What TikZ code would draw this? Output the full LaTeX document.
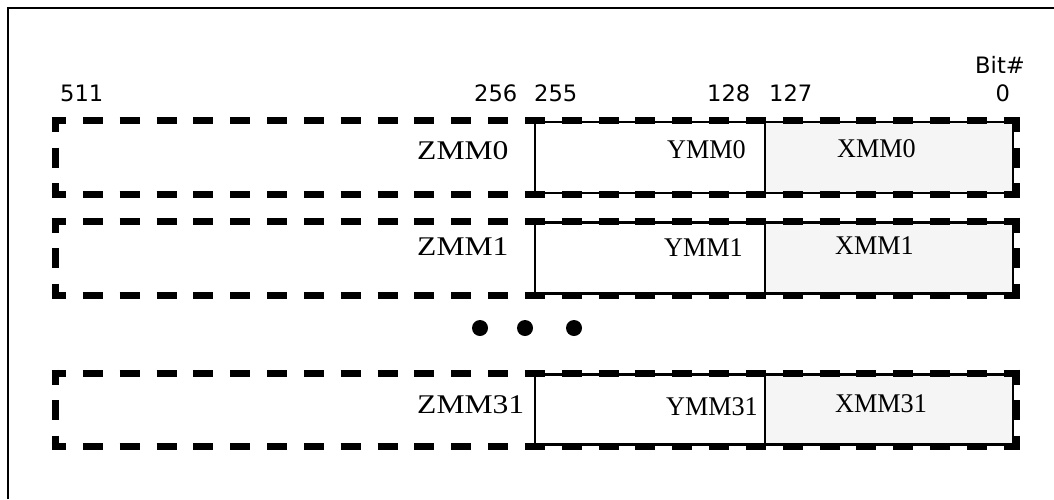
\documentclass[tikz,border=0pt]{standalone}
\usepackage{fontspec}
\setmainfont{Liberation Serif}
\newfontfamily\zfont[FakeStretch=1.17]{Liberation Serif}
\newfontfamily\yfont[FakeStretch=0.97]{Liberation Serif}
\newfontfamily\nfont{DejaVu Sans}
\definecolor{xfill}{RGB}{245,245,245}
\tikzset{
  frame/.style={line width=2.5pt},
  hdash/.style={line width=7pt, dash pattern=on 20pt off 16.84pt, dash phase=5.5pt},
  vdash/.style={line width=7pt, dash pattern=on 20pt off 15.5pt, dash phase=5pt},
  ybox/.style={draw, line width=2.5pt, fill=white, inner sep=0pt, outer sep=0pt},
  xbox/.style={draw, line width=2.5pt, fill=xfill, inner sep=0pt, outer sep=0pt},
  zlabel/.style={inner sep=0pt, font=\zfont\fontsize{27}{30}\selectfont},
  ylabel/.style={inner sep=0pt, font=\yfont\fontsize{27}{30}\selectfont},
  numlabel/.style={inner sep=0pt, font=\nfont\fontsize{22.6}{25}\selectfont},
  dot/.style={circle, fill=black, inner sep=0pt, minimum size=16pt}
}
\begin{document}
\begin{tikzpicture}[x=1pt,y=-1pt]
\useasboundingbox (0,0) rectangle (1054,499);
% outer frame (open at right and bottom)
\coordinate (fb) at (8,499);
\coordinate (fc) at (8,8);
\coordinate (fr) at (1054,8);
\draw[frame] (fb) -- (fc) -- (fr);

% bit numbers
\node[numlabel, anchor=base west] (n511) at (60,101) {511};
\node[numlabel, anchor=base west] (n256) at (474,101) {256};
\node[numlabel, anchor=base west] (n255) at (534,101) {255};
\node[numlabel, anchor=base west] (n128) at (707,101) {128};
\node[numlabel, anchor=base west] (n127) at (769,101) {127};
\node[numlabel, anchor=base west] (n0) at (995.5,101) {0};
\node[numlabel, anchor=base west] (bit) at (975,73) {Bit\#};

% registers
\foreach \t/\b/\n in {120.5/194.5/0, 221/295/1, 373/446/31}{
  \node[ybox, minimum width=230pt, minimum height=\b-\t-3pt, anchor=north west] (y\n) at (535,\t+1.5) {};
  \node[xbox, minimum width=248pt, minimum height=\b-\t-3pt, anchor=north west] (x\n) at (765,\t+1.5) {};
  \coordinate (tl\n) at (51.5,\t);
  \coordinate (tr\n) at (1019.5,\t);
  \coordinate (bl\n) at (51.5,\b);
  \coordinate (br\n) at (1019.5,\b);
  \coordinate (lt\n) at (55,\t-3.5);
  \coordinate (lb\n) at (55,\b+3.5);
  \coordinate (rt\n) at (1016,\t-3.5);
  \coordinate (rb\n) at (1016,\b+3.5);
  \draw[hdash] (tl\n) -- (tr\n);
  \draw[hdash] (bl\n) -- (br\n);
  \draw[vdash] (lt\n) -- (lb\n);
  \draw[vdash] (rt\n) -- (rb\n);
}

% labels
\node[zlabel, anchor=west] (zl0) at (417,151) {ZMM0};
\node[ylabel, anchor=east] (yl0) at (746,150) {YMM0};
\node[ylabel, anchor=west] (xl0) at (837,149) {XMM0};
\node[zlabel, anchor=west] (zl1) at (417,247) {ZMM1};
\node[ylabel, anchor=east] (yl1) at (743,248) {YMM1};
\node[ylabel, anchor=west] (xl1) at (835,246) {XMM1};
\node[zlabel, anchor=west] (zl31) at (417,405) {ZMM31};
\node[ylabel, anchor=east] (yl31) at (758,407) {YMM31};
\node[ylabel, anchor=west] (xl31) at (835,404) {XMM31};

% ellipsis dots
\node[dot] (d1) at (480,328) {};
\node[dot] (d2) at (525,328) {};
\node[dot] (d3) at (574,328) {};
\end{tikzpicture}
\end{document}
